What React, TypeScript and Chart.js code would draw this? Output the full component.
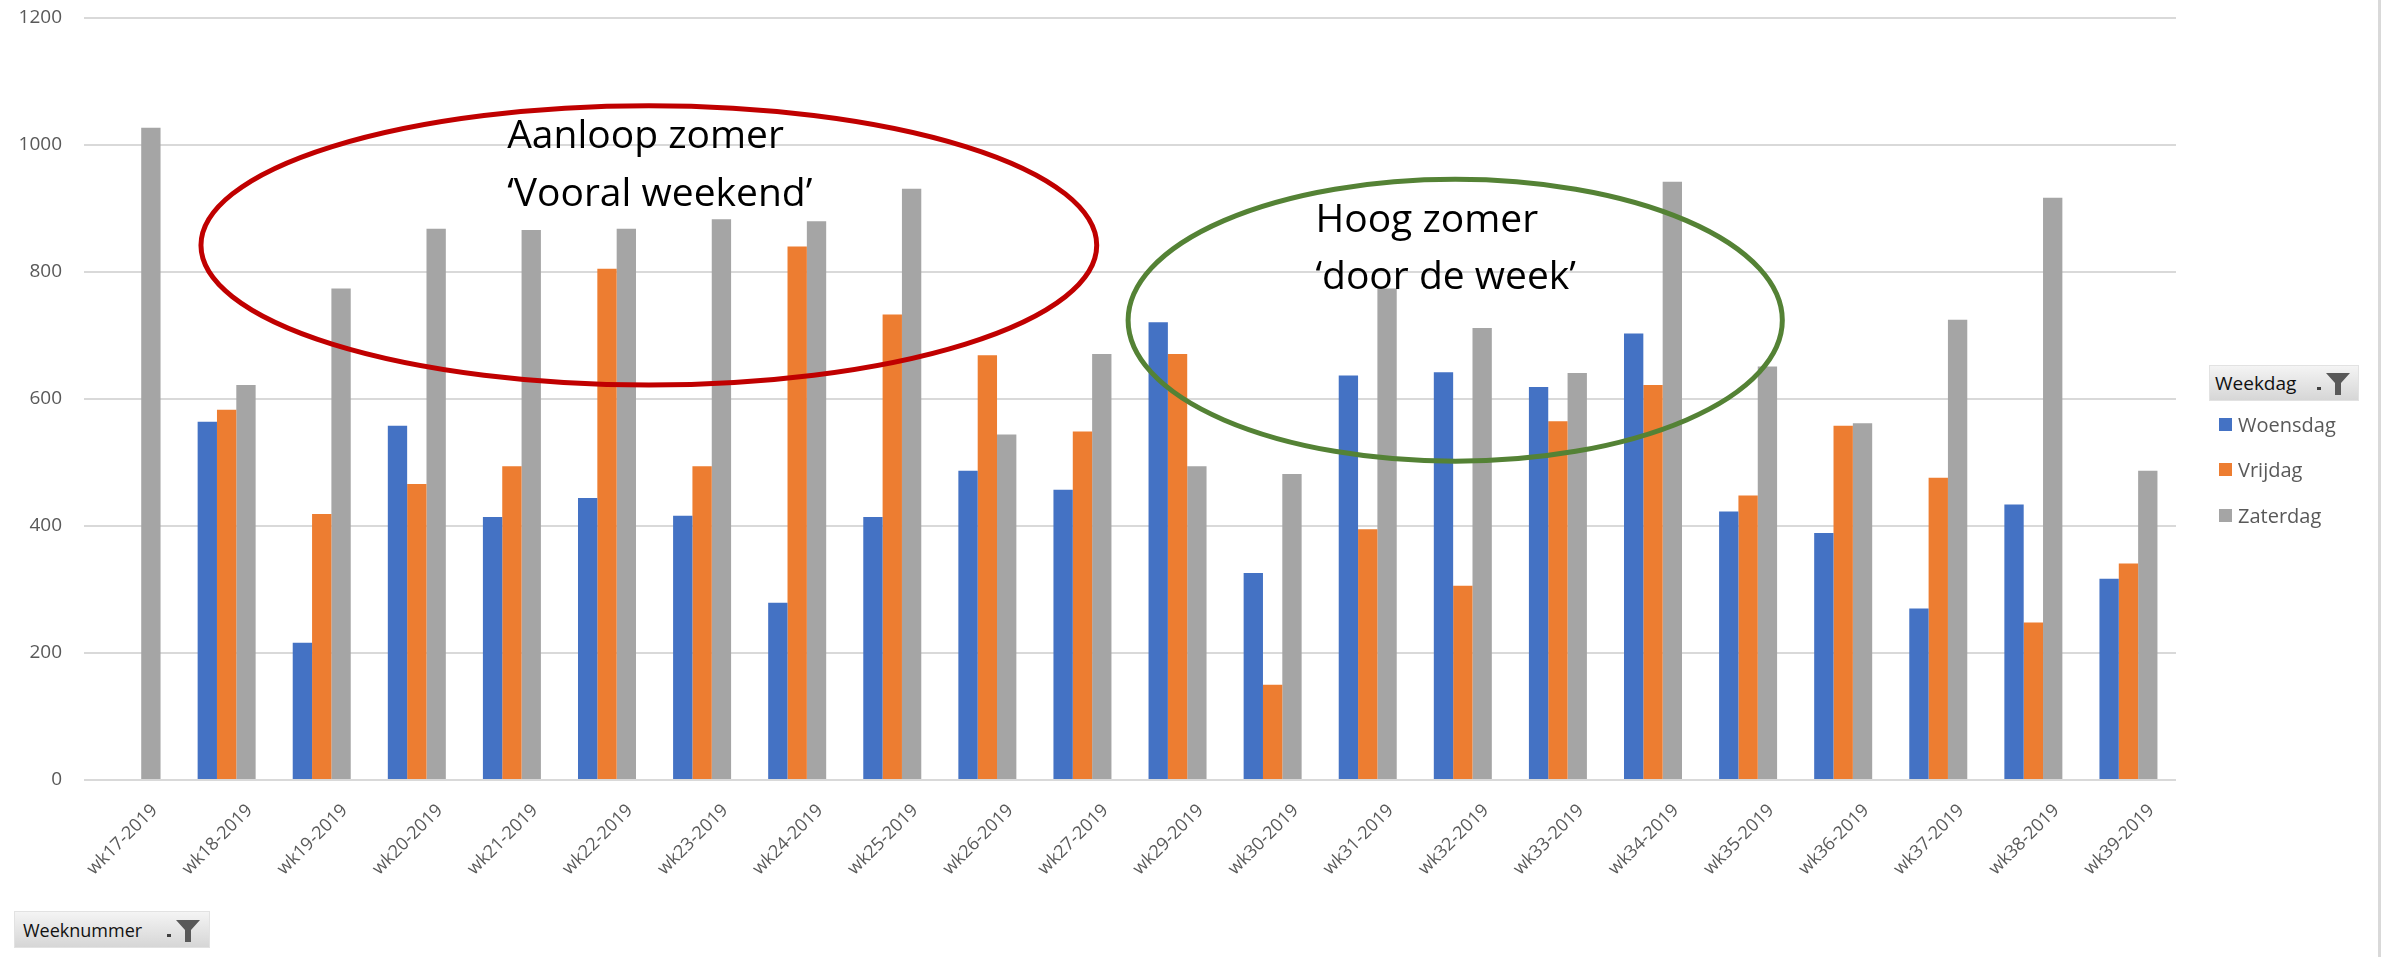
import React, { useEffect, useRef } from "react";
import { Chart, registerables } from "chart.js";

Chart.register(...registerables);

// ---------- data ----------
const weeks = [
  "wk17-2019", "wk18-2019", "wk19-2019", "wk20-2019", "wk21-2019", "wk22-2019",
  "wk23-2019", "wk24-2019", "wk25-2019", "wk26-2019", "wk27-2019", "wk29-2019",
  "wk30-2019", "wk31-2019", "wk32-2019", "wk33-2019", "wk34-2019", "wk35-2019",
  "wk36-2019", "wk37-2019", "wk38-2019", "wk39-2019",
];
const woensdag = [null, 564, 216, 558, 414, 444, 416, 279, 414, 487, 457, 721, 326, 637, 642, 619, 703, 423, 389, 270, 434, 317];
const vrijdag = [null, 583, 419, 466, 494, 805, 494, 840, 733, 669, 549, 671, 150, 395, 306, 565, 622, 448, 558, 476, 248, 341];
const zaterdag = [1027, 622, 774, 868, 866, 868, 883, 880, 931, 544, 671, 494, 482, 774, 712, 641, 942, 651, 562, 725, 917, 487];
const seriesNames = ["Woensdag", "Vrijdag", "Zaterdag"];
const seriesColors = ["#4472C4", "#ED7D31", "#A5A5A5"];
const yTicks = [0, 200, 400, 600, 800, 1000, 1200];
const legendTitle = "Weekdag";
const axisButton = "Weeknummer";

// annotations in data coordinates (category index, value)
const ellipses = [
  { cx: 5.44, cy: 842, rx: 4.71, ry: 220, color: "#C00000" },
  { cx: 13.92, cy: 724, rx: 3.44, ry: 222, color: "#548235" },
];
const notes = [
  { x: 3.95, y: 995, text: "Aanloop zomer" },
  { x: 3.95, y: 904, text: "\u2018Vooral weekend\u2019" },
  { x: 12.45, y: 863, text: "Hoog zomer" },
  { x: 12.45, y: 773, text: "\u2018door de week\u2019" },
];

const annotationPlugin = {
  id: "annot",
  afterDatasetsDraw(chart: any) {
    const { ctx, scales } = chart;
    const xs = scales.x;
    const ys = scales.y;
    const catW = xs.getPixelForValue(1) - xs.getPixelForValue(0);
    const unit = ys.getPixelForValue(0) - ys.getPixelForValue(1);
    ctx.save();
    ellipses.forEach((e) => {
      ctx.beginPath();
      ctx.ellipse(
        xs.getPixelForValue(e.cx),
        ys.getPixelForValue(e.cy),
        e.rx * catW,
        e.ry * unit,
        0,
        0,
        Math.PI * 2
      );
      ctx.strokeStyle = e.color;
      ctx.lineWidth = 5;
      ctx.stroke();
    });
    ctx.fillStyle = "#000000";
    ctx.font = "39px 'Open Sans'";
    ctx.textAlign = "left";
    ctx.textBaseline = "alphabetic";
    notes.forEach((n) => {
      ctx.fillText(n.text, xs.getPixelForValue(n.x), ys.getPixelForValue(n.y));
    });
    ctx.restore();
  },
};

function Funnel({ left, top }: { left: number; top: number }) {
  return (
    <svg
      width={36}
      height={24}
      style={{ position: "absolute", left, top }}
      viewBox="0 0 36 24"
    >
      <rect x={0} y={15} width={4} height={3} fill="#404040" />
      <polygon points="9,1 33,1 24,11 24,23 18,23 18,11" fill="#595959" />
    </svg>
  );
}

export default function App() {
  const canvasRef = useRef<HTMLCanvasElement | null>(null);

  useEffect(() => {
    const canvas = canvasRef.current;
    if (!canvas) return;
    const datasets = [woensdag, vrijdag, zaterdag].map((d, i) => ({
      label: seriesNames[i],
      data: d,
      backgroundColor: seriesColors[i],
      borderWidth: 0,
      barPercentage: 1,
      categoryPercentage: 0.61,
    }));
    const chart = new Chart(canvas, {
      type: "bar",
      data: { labels: weeks, datasets },
      options: {
        animation: false,
        responsive: false,
        maintainAspectRatio: false,
        layout: { padding: { left: 0, right: 213, top: 18, bottom: 0 } },
        plugins: {
          legend: { display: false },
          tooltip: { enabled: false },
          title: { display: false },
        },
        scales: {
          x: {
            grid: { display: false, drawTicks: false },
            border: { display: false },
            ticks: {
              autoSkip: false,
              maxRotation: 45,
              minRotation: 45,
              color: "#595959",
              font: { family: "'Open Sans'", size: 18 },
              padding: 20,
              labelOffset: 23,
            },
            afterFit: (s: any) => {
              s.height = 177;
              s.paddingLeft = 0;
              s.paddingRight = 0;
            },
          },
          y: {
            min: 0,
            max: 1200,
            afterBuildTicks: (s: any) => {
              s.ticks = yTicks.map((v) => ({ value: v }));
            },
            ticks: {
              color: "#595959",
              font: { family: "'Open Sans'", size: 19 },
              padding: 22,
              callback: (v: any) => String(v),
            },
            grid: { color: "#D9D9D9", lineWidth: 2, drawTicks: false },
            border: { display: false },
            afterFit: (s: any) => {
              s.width = 84;
              s.paddingTop = 0;
              s.paddingBottom = 0;
            },
          },
        },
      },
      plugins: [annotationPlugin],
    } as any);
    return () => chart.destroy();
  }, []);

  const btnStyle: React.CSSProperties = {
    position: "absolute",
    background: "linear-gradient(#f4f4f4, #d6d6d6)",
    border: "1px solid #e2e2e2",
    boxSizing: "border-box",
    fontFamily: "'Open Sans'",
    color: "#111",
  };

  return (
    <div
      style={{
        position: "fixed",
        left: 0,
        top: 0,
        width: 2389,
        height: 957,
        background: "#ffffff",
        overflow: "hidden",
      }}
    >
      <canvas
        ref={canvasRef}
        width={2389}
        height={957}
        style={{ position: "absolute", left: 0, top: 0, display: "block" }}
      />
      {/* right border line */}
      <div
        style={{
          position: "absolute",
          left: 2378,
          top: 0,
          width: 3,
          height: 957,
          background: "#D9D9D9",
        }}
      />
      {/* legend filter button */}
      <div style={{ ...btnStyle, left: 2209, top: 365, width: 150, height: 36 }}>
        <span
          style={{
            position: "absolute",
            left: 5,
            top: 3,
            fontSize: 19,
            lineHeight: "28px",
          }}
        >
          {legendTitle}
        </span>
        <Funnel left={107} top={6} />
      </div>
      {/* legend items */}
      {seriesNames.map((n, i) => (
        <div
          key={n}
          style={{
            position: "absolute",
            left: 2219,
            top: 411 + i * 45.5,
            height: 26,
            display: "flex",
            alignItems: "center",
            fontFamily: "'Open Sans'",
            fontSize: 20,
            color: "#595959",
          }}
        >
          <span
            style={{
              display: "inline-block",
              width: 13,
              height: 13,
              background: seriesColors[i],
              marginRight: 6,
            }}
          />
          <span>{n}</span>
        </div>
      ))}
      {/* axis filter button */}
      <div style={{ ...btnStyle, left: 14, top: 911, width: 196, height: 37 }}>
        <span
          style={{
            position: "absolute",
            left: 8,
            top: 4,
            fontSize: 18,
            lineHeight: "28px",
          }}
        >
          {axisButton}
        </span>
        <Funnel left={152} top={7} />
      </div>
    </div>
  );
}
